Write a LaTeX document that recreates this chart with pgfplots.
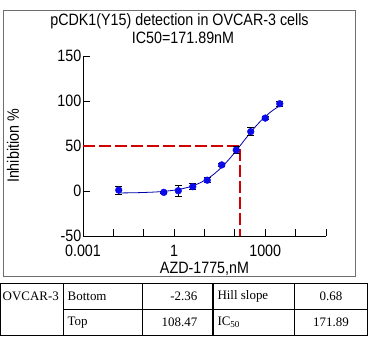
\documentclass[border=0pt]{standalone}
\usepackage{fontspec}
\setmainfont{Liberation Sans}[FakeStretch=0.87]
\newfontfamily\tabfont{Liberation Serif}
\usepackage{pgfplots}
\pgfplotsset{compat=1.18}
\definecolor{dotblue}{RGB}{10,10,235}
\definecolor{lineblue}{RGB}{0,0,170}
\definecolor{dashred}{RGB}{210,0,0}
\definecolor{framegray}{RGB}{110,110,110}
\newcommand{\chartfont}{\fontsize{16.5}{16.6}\selectfont}
\newcommand{\tabfs}{\tabfont\fontsize{13}{14}\selectfont}
\begin{document}
\begin{tikzpicture}
\useasboundingbox (0,0) rectangle (369bp,-339bp);
\draw[framegray, line width=1bp] (3.3bp,-10.7bp) rectangle (355bp,-276.7bp);
\begin{axis}[
  at={(83bp,-236bp)}, anchor=south west,
  scale only axis, width=243bp, height=180bp,
  xmode=log, log basis x=10,
  xmin=1e-3, xmax=1e5, ymin=-50, ymax=150,
  axis lines=left, axis line style={-, line width=0.8bp, black},
  tick align=inside, major tick length=7.5bp, tick style={black, line width=0.8bp},
  xtick={1e-3,1e-2,1e-1,1,10,100,1000,1e4,1e5},
  xticklabels={0.001,,,1,,,1000,,},
  xminorticks=false, yminorticks=false,
  ytick={-50,0,50,100,150},
  /pgf/number format/assume math mode=true,
  ticklabel style={font=\chartfont},
  xticklabel style={inner sep=1bp, yshift=-7.8bp},
  yticklabel style={inner sep=1.5bp},
  xlabel={AZD-1775,nM}, ylabel={Inhibition \%},
  label style={font=\chartfont},
  xlabel style={at={(axis description cs:0.5,-0.18)}, anchor=center},
  ylabel style={at={(axis description cs:-0.288,0.5)}, anchor=center},
  clip=false,
]
\addplot[dashred, dash pattern=on 12bp off 4bp, line width=1.3bp] coordinates {(1e-3,50) (146,50) (146,-50)};
\addplot[lineblue, line width=0.8bp, mark=none] coordinates {
(0.015,-2.17) (0.03,-2.05) (0.05,-1.93) (0.1,-1.66) (0.2,-1.25) (0.3,-0.90) (0.5,-0.31)
(1,0.89) (2,2.75) (3,4.28) (5,6.81) (7,8.93) (10,11.64) (15,15.37) (20,18.48) (30,23.55)
(50,31.07) (70,36.64) (100,42.96) (150,50.49) (200,55.9) (300,63.42) (500,72.33)
(700,77.67) (1000,82.76) (1500,87.8) (2000,90.89) (3000,94.6)};
\addplot[only marks, mark=*, mark size=3.4bp, mark options={draw=dotblue, fill=dotblue},
  error bars/.cd, y dir=both, y explicit,
  error bar style={black, line width=0.9bp},
  error mark options={rotate=90, black, mark size=3.5bp, line width=0.9bp}]
coordinates {
(0.015,1) +- (0,4.5)
(0.457,-1.5) +- (0,1.5)
(1.37,0.3) +- (0,6)
(4.1,4.8) +- (0,3.5)
(12.3,12) +- (0,3)
(37,29) +- (0,1.5)
(111,45.5) +- (0,4)
(333,66) +- (0,4.5)
(1000,81) +- (0,2)
(3000,97) +- (0,3)
};
\end{axis}
% title
\node[font=\chartfont, inner sep=0pt] at (179.5bp,-21.7bp) {pCDK1(Y15) detection in OVCAR-3 cells};
\node[font=\chartfont, inner sep=0pt] at (183bp,-38.3bp) {IC50=171.89nM};
% table
\draw[black, line width=0.9bp] (0.7bp,-283.3bp) rectangle (367bp,-335.7bp);
\draw[black, line width=0.9bp] (63.3bp,-283.3bp) -- (63.3bp,-335.7bp);
\draw[black, line width=0.9bp] (142.7bp,-283.3bp) -- (142.7bp,-335.7bp);
\draw[black, line width=1.8bp] (213.3bp,-283.3bp) -- (213.3bp,-335.7bp);
\draw[black, line width=0.9bp] (294bp,-283.3bp) -- (294bp,-335.7bp);
\draw[black, line width=0.9bp] (63.3bp,-309.3bp) -- (367bp,-309.3bp);
\node[anchor=west, inner sep=0pt, font=\tabfs] at (2.5bp,-296.3bp) {OVCAR-3};
\node[anchor=west, inner sep=0pt, font=\tabfs] at (67.5bp,-296.3bp) {Bottom};
\node[anchor=west, inner sep=0pt, font=\tabfs] at (67.5bp,-322.5bp) {Top};
\node[anchor=east, inner sep=0pt, font=\tabfs] at (197.5bp,-296.3bp) {-2.36};
\node[anchor=east, inner sep=0pt, font=\tabfs] at (197.5bp,-322.5bp) {108.47};
\node[anchor=west, inner sep=0pt, font=\tabfs] at (217.3bp,-296.3bp) {Hill slope};
\node[anchor=west, inner sep=0pt, font=\tabfs] at (217.3bp,-322.5bp) {IC\textsubscript{50}};
\node[anchor=center, inner sep=0pt, font=\tabfs] at (331bp,-296.3bp) {0.68};
\node[anchor=center, inner sep=0pt, font=\tabfs] at (331bp,-322.5bp) {171.89};
\end{tikzpicture}
\end{document}
